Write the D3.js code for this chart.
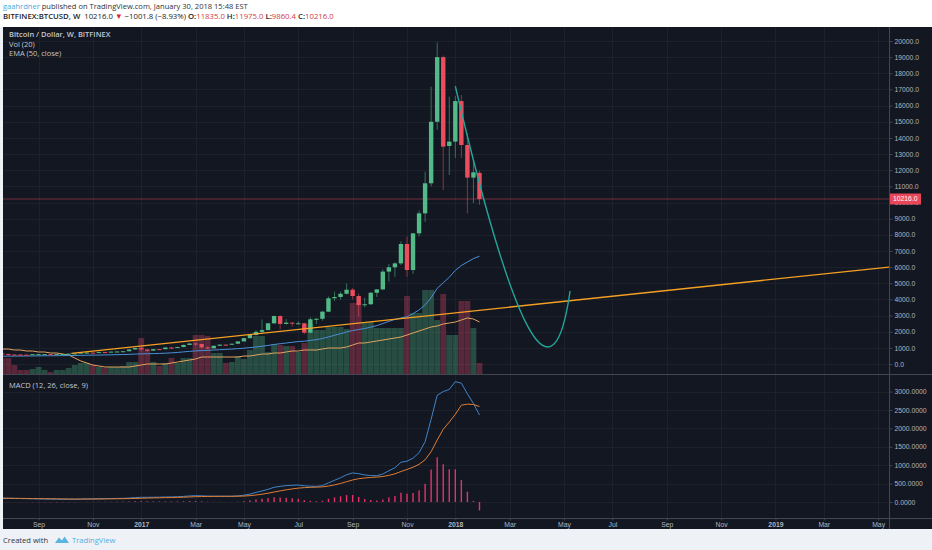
<!DOCTYPE html>
<html>
<head>
<meta charset="utf-8">
<script src="https://cdnjs.cloudflare.com/ajax/libs/d3/7.8.5/d3.min.js"></script>
<style>
	body { margin: 0; background: #eef1f6; }
	svg { display: block; }
</style>
</head>
<body>
<div id="chart"></div>
<script>
// weekly BTCUSD bars (Bitfinex), first bar week of 2016-07-25, last 2018-01-29
var firstWeek = '2016-07-25';
var lastWeek = '2018-01-29';
var opens = [655, 624, 588, 585, 580, 575, 607, 608, 609, 602, 612, 617, 640, 653, 700, 705, 702, 737, 733, 766,
	775, 790, 900, 990, 905, 825, 920, 915, 1020, 1000, 1050, 1180, 1270, 1240, 1030, 970, 1130, 1200, 1195, 1255,
	1400, 1600, 1800, 1990, 2100, 2520, 2970, 2480, 2560, 2510, 2520, 1940, 2770, 2800, 3240, 4070, 4150, 4350, 4600, 4210,
	3650, 3700, 4410, 4620, 5720, 5990, 6230, 7430, 5820, 8090, 9330, 11190, 15000, 19000, 13500, 13770, 16280, 13560, 11540, 11835];
var highs = [660, 628, 600, 590, 585, 610, 630, 612, 612, 615, 620, 642, 655, 720, 745, 725, 752, 750, 770, 780,
	795, 925, 1000, 1140, 910, 920, 925, 1035, 1060, 1060, 1200, 1290, 1330, 1255, 1080, 1135, 1210, 1215, 1260, 1400,
	1620, 1830, 2100, 2760, 2550, 3000, 3020, 2780, 2600, 2640, 2560, 2890, 2840, 3290, 4180, 4480, 4480, 4980, 4700, 4370,
	4100, 4460, 4620, 5860, 6200, 6300, 7600, 7900, 8100, 9500, 11900, 17170, 19900, 19100, 16550, 16600, 16650, 14300, 12630, 11975];
var lows = [610, 480, 580, 565, 570, 570, 600, 600, 592, 598, 605, 612, 628, 650, 690, 695, 700, 725, 728, 755,
	770, 790, 890, 780, 750, 820, 885, 910, 940, 990, 1045, 1170, 1100, 940, 900, 960, 1120, 1160, 1185, 1250,
	1395, 1580, 1760, 1850, 2080, 2480, 2150, 2450, 2320, 2480, 1840, 1900, 2480, 2680, 3210, 3900, 3980, 4300, 4000, 2950,
	3500, 3650, 4150, 4570, 5100, 5400, 6130, 5400, 5580, 7900, 8800, 11000, 14500, 10770, 11700, 12760, 12760, 9330, 9970, 9860.4];
var closes = [624, 588, 585, 580, 575, 607, 608, 609, 602, 612, 617, 640, 653, 700, 705, 702, 737, 733, 766, 775,
	790, 900, 990, 905, 825, 920, 915, 1020, 1000, 1050, 1180, 1270, 1240, 1030, 970, 1130, 1200, 1195, 1255, 1400,
	1600, 1800, 1990, 2100, 2520, 2970, 2480, 2560, 2510, 2520, 1940, 2770, 2800, 3240, 4070, 4150, 4350, 4600, 4210, 3650,
	3700, 4410, 4620, 5720, 5990, 6230, 7430, 5820, 8090, 9330, 11190, 15000, 19000, 13460, 13770, 16280, 13560, 11540, 11870, 10216];

// volume in thousand BTC and its 20-week average
var volumes = [160, 160, 90, 40, 40, 50, 70, 40, 20, 40, 40, 60, 90, 110, 110, 90, 70, 60, 70, 70,
	80, 120, 120, 360, 240, 120, 80, 110, 160, 110, 160, 160, 390, 390, 380, 210, 210, 110, 120, 180,
	150, 240, 380, 380, 220, 300, 290, 280, 280, 220, 310, 500, 440, 440, 470, 470, 470, 450, 710, 710,
	520, 520, 460, 460, 460, 460, 460, 780, 610, 610, 840, 840, 540, 800, 390, 390, 730, 730, 460, 110];
var volumeMA = [250, 250, 240, 240, 230, 230, 220, 220, 210, 210, 200, 190, 160, 130, 110, 90, 80, 70, 70, 70,
	70, 70, 80, 90, 100, 100, 100, 100, 110, 120, 130, 140, 150, 170, 170, 170, 170, 170, 170, 170,
	180, 180, 190, 200, 200, 210, 210, 220, 230, 230, 240, 240, 240, 250, 260, 260, 260, 270, 290, 310,
	310, 320, 330, 340, 350, 360, 370, 390, 410, 430, 450, 470, 480, 500, 510, 520, 540, 560, 550, 520];

// EMA (50, close)
var ema50 = [480, 485, 489, 493, 496, 500, 504, 508, 511, 515, 519, 523, 528, 535, 542, 548, 555, 562, 570, 578,
	586, 598, 614, 625, 633, 645, 655, 669, 690, 715, 750, 780, 810, 830, 845, 865, 885, 905, 925, 950,
	980, 1015, 1055, 1100, 1150, 1210, 1255, 1300, 1345, 1390, 1410, 1460, 1510, 1577, 1677, 1775, 1877, 1984, 2071, 2133,
	2196, 2282, 2373, 2504, 2640, 2760, 2850, 2920, 3120, 3350, 3660, 4105, 4686, 5030, 5371, 5796, 6099, 6311, 6528, 6672];

// MACD (12, 26, close, 9)
var macdLine = [105, 102, 98, 94, 90, 87, 84, 81, 78, 76, 74, 73, 74, 79, 84, 86, 89, 91, 94, 97,
	100, 108, 120, 128, 128, 130, 131, 136, 138, 142, 152, 165, 172, 168, 160, 158, 158, 156, 157, 165,
	185, 215, 260, 300, 345, 400, 425, 445, 455, 462, 440, 430, 425, 445, 520, 590, 660, 740, 790, 770,
	735, 720, 715, 760, 850, 930, 1080, 1110, 1190, 1340, 1640, 2250, 2900, 3000, 3060, 3270, 3230, 2940, 2680, 2364];
var signalLine = [100, 100, 99, 98, 96, 94, 92, 90, 88, 86, 84, 82, 80, 80, 80, 81, 82, 84, 86, 88,
	90, 93, 97, 102, 107, 111, 115, 119, 122, 126, 131, 137, 144, 149, 151, 153, 154, 155, 155, 157,
	162, 172, 190, 212, 239, 271, 302, 331, 356, 377, 390, 398, 403, 411, 433, 464, 504, 551, 599, 633,
	653, 667, 677, 693, 724, 765, 828, 884, 945, 1024, 1147, 1368, 1685, 1975, 2172, 2382, 2632, 2659, 2650, 2594];
var macdHist = [5, 2, -1, -4, -6, -7, -8, -9, -10, -10, -10, -9, -6, -1, 4, 5, 7, 7, 8, 9,
	10, 15, 23, 26, 21, 19, 16, 17, 16, 16, 21, 28, 28, 19, 9, 5, 4, 1, 2, 8,
	23, 43, 70, 88, 106, 129, 123, 114, 99, 85, 50, 32, 22, 34, 87, 126, 156, 189, 191, 137,
	82, 53, 38, 67, 126, 165, 252, 226, 245, 316, 493, 882, 1215, 1025, 888, 888, 598, 281, 30, -230];

var lastPrice = 10216.0;
var priceTicks = [0, 1000, 2000, 3000, 4000, 5000, 6000, 7000, 8000, 9000, 10000,
	11000, 12000, 13000, 14000, 15000, 16000, 17000, 18000, 19000, 20000];
var macdTicks = [0, 500, 1000, 1500, 2000, 2500, 3000];
var timeTicks = ['2016-09-05', '2016-11-07', '2017-01-02', '2017-03-06', '2017-05-01', '2017-07-03',
	'2017-09-04', '2017-11-06', '2018-01-01', '2018-03-05', '2018-05-07', '2018-07-02',
	'2018-09-03', '2018-11-05', '2019-01-07', '2019-03-04', '2019-05-06'];
var timeLabels = ['Sep', 'Nov', '2017', 'Mar', 'May', 'Jul', 'Sep', 'Nov', '2018',
	'Mar', 'May', 'Jul', 'Sep', 'Nov', '2019', 'Mar', 'May'];

// drawings on the chart: trend line and forecast curve (date, price)
var trendLine = [['2016-10-13', 662], ['2019-05-20', 6010]];
var forecastCurve = [['2018-01-01', 17200], ['2018-04-15', -6440], ['2018-05-14', 4520]];

(function () {
	var width = 932;
	var height = 550;
	var plotLeft = 3;
	var plotRight = 889;
	var mainTop = 27;
	var mainBottom = 374;
	var macdTop = 375;
	var macdBottom = 518;
	var axisBottom = 529;

	var bgColor = '#131722';
	var gridColor = '#1d212c';
	var borderColor = '#434651';
	var fontColor = '#b2b5be';
	var upColor = '#53b987';
	var downColor = '#eb4d5c';
	var axisFont = '"Liberation Sans", Arial, sans-serif';
	var textFont = '"Open Sans", "Liberation Sans", sans-serif';

	var parseDate = d3.timeParse('%Y-%m-%d');
	var weeks = d3.timeMonday.range(parseDate(firstWeek), d3.timeDay.offset(parseDate(lastWeek), 1));
	var bars = weeks.map((d, i) => ({
		date: d,
		open: opens[i],
		high: highs[i],
		low: lows[i],
		close: closes[i],
		volume: volumes[i],
		volumeMA: volumeMA[i],
		ema: ema50[i],
		macd: macdLine[i],
		signal: signalLine[i],
		hist: macdHist[i]
	}));

	// scales
	var x = d3.scaleTime()
		.domain([parseDate('2016-07-25'), parseDate('2019-05-20')])
		.range([2.3, 890.2]);
	var y = d3.scaleLinear().domain([0, 20000]).range([364, 41]);
	var yVolume = d3.scaleLinear().domain([0, 1000]).range([mainBottom, mainBottom - 100]);
	var yMacd = d3.scaleLinear().domain([0, 3000]).range([502, 391.6]);
	var barWidth = 4.4;

	var svg = d3.select('#chart').append('svg')
		.attr('width', width).attr('height', height);

	///////////////////////////////////////////////////////////////////////////
	////////// header and background //////////////////////////////////////////
	///////////////////////////////////////////////////////////////////////////
	svg.append('rect').attr('width', width).attr('height', mainTop).attr('fill', '#ffffff');
	svg.append('rect')
		.attr('x', plotLeft).attr('y', mainTop)
		.attr('width', width - plotLeft).attr('height', axisBottom - mainTop)
		.attr('fill', bgColor);

	var line1 = svg.append('text')
		.attr('x', 3).attr('y', 8.8)
		.attr('font-family', textFont).attr('font-size', 7.55).attr('fill', '#333');
	line1.append('tspan').attr('fill', '#4aa8da').text('gaahrdner');
	line1.append('tspan').text(' published on TradingView.com, January 30, 2018 15:48 EST');

	var line2 = svg.append('text')
		.attr('x', 3).attr('y', 19.2)
		.attr('font-family', textFont).attr('font-size', 7.75).attr('fill', '#222');
	line2.append('tspan').attr('font-weight', 600).text('BITFINEX:BTCUSD, W');
	line2.append('tspan').text('\u00a0 10216.0 ');
	line2.append('tspan').attr('fill', '#d8262f').text('\u25bc');
	line2.append('tspan').text(' \u22121001.8 (\u22128.93%) ');
	[['O:', '11835.0'], ['H:', '11975.0'], ['L:', '9860.4'], ['C:', '10216.0']].forEach((pair, i) => {
		line2.append('tspan').attr('font-weight', 600).text((i ? ' ' : '') + pair[0]);
		line2.append('tspan').attr('fill', '#d33a45').text(pair[1]);
	});

	///////////////////////////////////////////////////////////////////////////
	////////// grid ///////////////////////////////////////////////////////////
	///////////////////////////////////////////////////////////////////////////
	var grid = svg.append('g').attr('stroke', gridColor).attr('stroke-width', 1);
	grid.selectAll('.vgrid')
		.data(timeTicks)
		.enter().append('line')
		.attr('x1', d => Math.round(x(parseDate(d))) + 0.5)
		.attr('x2', d => Math.round(x(parseDate(d))) + 0.5)
		.attr('y1', mainTop).attr('y2', macdBottom);
	grid.selectAll('.pgrid')
		.data(priceTicks)
		.enter().append('line')
		.attr('x1', plotLeft).attr('x2', plotRight)
		.attr('y1', d => Math.round(y(d)) + 0.5)
		.attr('y2', d => Math.round(y(d)) + 0.5);
	grid.selectAll('.mgrid')
		.data(macdTicks)
		.enter().append('line')
		.attr('x1', plotLeft).attr('x2', plotRight)
		.attr('y1', d => Math.round(yMacd(d)) + 0.5)
		.attr('y2', d => Math.round(yMacd(d)) + 0.5);

	// clips for the panes
	var defs = svg.append('defs');
	defs.append('clipPath').attr('id', 'clip-main')
		.append('rect').attr('x', plotLeft).attr('y', mainTop)
		.attr('width', plotRight - plotLeft).attr('height', mainBottom - mainTop);
	defs.append('clipPath').attr('id', 'clip-macd')
		.append('rect').attr('x', plotLeft).attr('y', macdTop)
		.attr('width', plotRight - plotLeft).attr('height', macdBottom - macdTop);

	var main = svg.append('g').attr('clip-path', 'url(#clip-main)');
	var macdPane = svg.append('g').attr('clip-path', 'url(#clip-macd)');

	///////////////////////////////////////////////////////////////////////////
	////////// volume /////////////////////////////////////////////////////////
	///////////////////////////////////////////////////////////////////////////
	main.append('g').selectAll('rect')
		.data(bars)
		.enter().append('rect')
		.attr('x', d => x(d.date) - 2.9)
		.attr('width', 5.8)
		.attr('y', d => yVolume(d.volume))
		.attr('height', d => mainBottom - yVolume(d.volume))
		.attr('fill', d => d.close >= d.open ? upColor : '#e64a6e')
		.attr('opacity', 0.33);

	main.append('path')
		.datum(bars)
		.attr('fill', 'none')
		.attr('stroke', '#e3a35e')
		.attr('stroke-width', 1)
		.attr('d', d3.line().x(d => x(d.date)).y(d => yVolume(d.volumeMA)));

	// EMA 50
	main.append('path')
		.datum(bars)
		.attr('fill', 'none')
		.attr('stroke', '#4a8fd6')
		.attr('stroke-width', 1)
		.attr('d', d3.line().x(d => x(d.date)).y(d => y(d.ema)));

	// last price line
	main.append('line')
		.attr('x1', plotLeft).attr('x2', plotRight)
		.attr('y1', y(lastPrice)).attr('y2', y(lastPrice))
		.attr('stroke', downColor).attr('stroke-width', 1).attr('opacity', 0.45);

	///////////////////////////////////////////////////////////////////////////
	////////// candles ////////////////////////////////////////////////////////
	///////////////////////////////////////////////////////////////////////////
	var candles = main.append('g').selectAll('g')
		.data(bars)
		.enter().append('g')
		.attr('transform', d => 'translate(' + [x(d.date), 0] + ')');
	candles.append('line')
		.attr('y1', d => y(d.high))
		.attr('y2', d => y(d.low))
		.attr('stroke', d => d.close >= d.open ? upColor : downColor)
		.attr('stroke-opacity', 0.55)
		.attr('stroke-width', 1);
	candles.append('rect')
		.attr('x', -barWidth / 2)
		.attr('width', barWidth)
		.attr('y', d => y(Math.max(d.open, d.close)))
		.attr('height', d => Math.max(1, Math.abs(y(d.open) - y(d.close))))
		.attr('fill', d => d.close >= d.open ? upColor : downColor);

	///////////////////////////////////////////////////////////////////////////
	////////// drawings ///////////////////////////////////////////////////////
	///////////////////////////////////////////////////////////////////////////
	main.append('line')
		.attr('x1', x(parseDate(trendLine[0][0]))).attr('y1', y(trendLine[0][1]))
		.attr('x2', x(parseDate(trendLine[1][0]))).attr('y2', y(trendLine[1][1]))
		.attr('stroke', '#f5a023')
		.attr('stroke-width', 1.3);

	var curve = d3.path();
	var pts = forecastCurve.map(p => [x(parseDate(p[0])), y(p[1])]);
	curve.moveTo(pts[0][0], pts[0][1]);
	curve.quadraticCurveTo(pts[1][0], pts[1][1], pts[2][0], pts[2][1]);
	main.append('path')
		.attr('d', curve.toString())
		.attr('fill', 'none')
		.attr('stroke', '#22a69a')
		.attr('stroke-width', 1.4);

	///////////////////////////////////////////////////////////////////////////
	////////// MACD ///////////////////////////////////////////////////////////
	///////////////////////////////////////////////////////////////////////////
	macdPane.append('g').selectAll('rect')
		.data(bars)
		.enter().append('rect')
		.attr('x', d => x(d.date) - 0.7)
		.attr('width', 1.4)
		.attr('y', d => Math.min(yMacd(d.hist), yMacd(0)))
		.attr('height', d => Math.abs(yMacd(d.hist) - yMacd(0)))
		.attr('fill', '#e2336b');

	macdPane.append('path')
		.datum(bars)
		.attr('fill', 'none')
		.attr('stroke', '#3f84c9')
		.attr('stroke-width', 1)
		.attr('d', d3.line().x(d => x(d.date)).y(d => yMacd(d.macd)));
	macdPane.append('path')
		.datum(bars)
		.attr('fill', 'none')
		.attr('stroke', '#e07d34')
		.attr('stroke-width', 1)
		.attr('d', d3.line().x(d => x(d.date)).y(d => yMacd(d.signal)));

	///////////////////////////////////////////////////////////////////////////
	////////// axes and separators ////////////////////////////////////////////
	///////////////////////////////////////////////////////////////////////////
	var borders = svg.append('g').attr('stroke', borderColor).attr('stroke-width', 1);
	borders.append('line').attr('x1', plotRight + 0.5).attr('x2', plotRight + 0.5)
		.attr('y1', mainTop).attr('y2', axisBottom);
	borders.append('line').attr('x1', plotLeft).attr('x2', width)
		.attr('y1', mainBottom + 0.5).attr('y2', mainBottom + 0.5);
	borders.append('line').attr('x1', plotLeft).attr('x2', width)
		.attr('y1', macdBottom + 0.5).attr('y2', macdBottom + 0.5);

	var priceAxis = svg.append('g')
		.attr('transform', 'translate(' + (plotRight + 0.5) + ',0)')
		.call(d3.axisRight(y).tickValues(priceTicks).tickFormat(d3.format('.1f')).tickSize(3).tickPadding(2));
	var macdAxis = svg.append('g')
		.attr('transform', 'translate(' + (plotRight + 0.5) + ',0)')
		.call(d3.axisRight(yMacd).tickValues(macdTicks).tickFormat(d3.format('.4f')).tickSize(3).tickPadding(2));
	var timeAxis = svg.append('g')
		.attr('transform', 'translate(0,' + (macdBottom + 0.5) + ')')
		.call(d3.axisBottom(x).tickValues(timeTicks.map(parseDate))
			.tickFormat((d, i) => timeLabels[i]).tickSize(2).tickPadding(1.5));

	[priceAxis, macdAxis, timeAxis].forEach(axis => {
		axis.select('.domain').remove();
		axis.selectAll('line').attr('stroke', borderColor);
		axis.selectAll('text')
			.attr('fill', fontColor)
			.attr('font-family', axisFont)
			.attr('font-size', 6.8);
	});
	timeAxis.selectAll('text')
		.attr('font-weight', (d, i) => /^\d{4}$/.test(timeLabels[i]) ? 'bold' : 'normal');

	// last price label, drawn over the 10000.0 tick as in the original
	var priceLabel = svg.append('g')
		.attr('transform', 'translate(' + [plotRight + 1, y(lastPrice)] + ')');
	priceLabel.append('rect')
		.attr('y', -5.5).attr('width', 31).attr('height', 11)
		.attr('fill', '#e8475a');
	priceLabel.append('text')
		.attr('x', 3).attr('dy', '0.35em')
		.attr('fill', '#fff')
		.attr('font-family', axisFont).attr('font-size', 6.8)
		.text(d3.format('.1f')(lastPrice));

	///////////////////////////////////////////////////////////////////////////
	////////// legends ////////////////////////////////////////////////////////
	///////////////////////////////////////////////////////////////////////////
	var legend = svg.append('g')
		.attr('font-family', textFont).attr('font-size', 7.5).attr('fill', '#c3c6ce');
	legend.append('text').attr('x', 9).attr('y', 36.5).attr('font-weight', 600)
		.text('Bitcoin / Dollar, W, BITFINEX');
	legend.append('text').attr('x', 9).attr('y', 46.5).text('Vol (20)');
	legend.append('text').attr('x', 9).attr('y', 56).text('EMA (50, close)');
	legend.append('text').attr('x', 9).attr('y', 387.5).text('MACD (12, 26, close, 9)');

	///////////////////////////////////////////////////////////////////////////
	////////// footer /////////////////////////////////////////////////////////
	///////////////////////////////////////////////////////////////////////////
	var footer = svg.append('g').attr('font-family', textFont).attr('font-size', 7.6);
	footer.append('text').attr('x', 3).attr('y', 543).attr('fill', '#333').text('Created with');
	footer.append('path')
		.attr('d', 'M55,543 L59,537.5 L62,540.5 L64.5,536.5 L69,543 Z M58,543 Q62,539 66,543 Z')
		.attr('fill', '#5ab4e0');
	footer.append('text').attr('x', 72).attr('y', 543).attr('fill', '#4fb0de').text('TradingView');
})();
</script>
</body>
</html>
